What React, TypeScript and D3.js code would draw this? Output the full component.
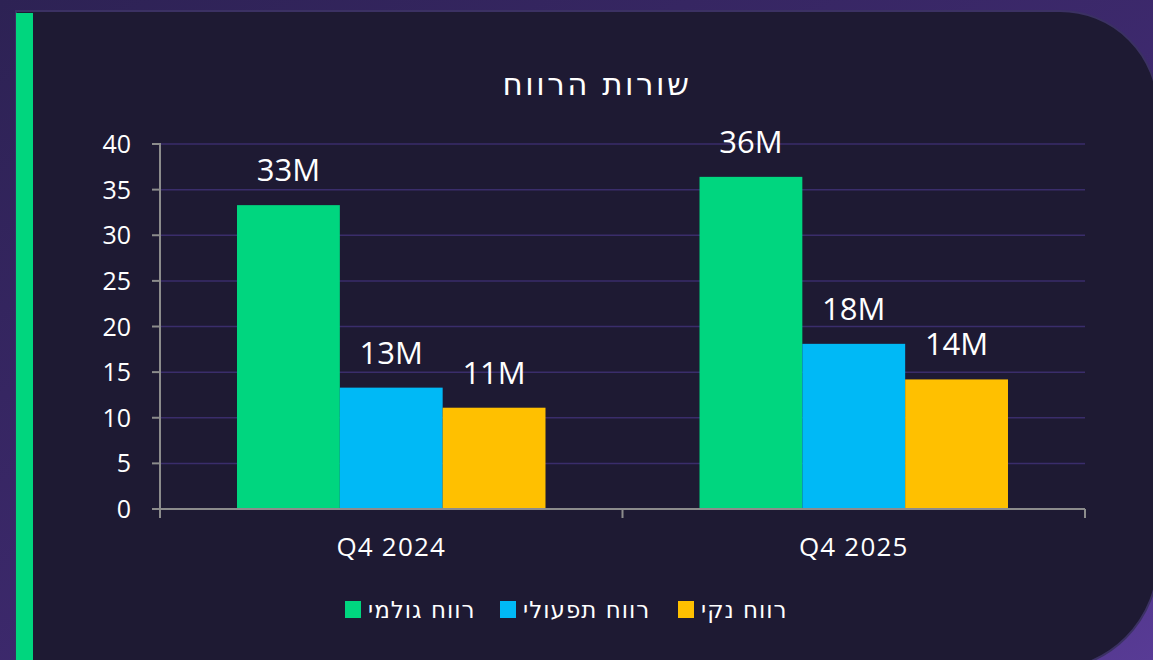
import React from 'react';
import * as d3 from 'd3';

// נתוני הגרף
const categories = ['Q4 2024', 'Q4 2025'];
const seriesNames = ['רווח גולמי', 'רווח תפעולי', 'רווח נקי'];
const seriesColors = ['#00d67f', '#00b9f6', '#ffc000'];
const gross = [33.3, 36.4];
const operating = [13.3, 18.1];
const net = [11.1, 14.2];
const valueLabels = [['33M', '36M'], ['13M', '18M'], ['11M', '14M']];
const yTicks = [0, 5, 10, 15, 20, 25, 30, 35, 40];

const W = 1153, H = 660;
const FONT = "'Open Sans', 'DejaVu Sans', sans-serif";
const HEB = "'DejaVu Sans', sans-serif";

export default function App() {
  const values = [gross, operating, net];

  const x0 = d3.scaleBand<string>()
    .domain(categories)
    .range([160, 1085])
    .paddingInner(0.333)
    .paddingOuter(0.1665);

  const x1 = d3.scaleBand<number>()
    .domain(d3.range(seriesNames.length))
    .range([0, x0.bandwidth()])
    .padding(0);

  const y = d3.scaleLinear().domain([0, 40]).range([509, 144]);

  // כרטיס עם פינות ימניות מעוגלות
  const card = 'M16,11 L1060,11 A98,98 0 0 1 1158,109 L1158,560 A110,110 0 0 1 1048,670 L16,670 Z';

  const legendX = [345, 500, 678];

  return (
    <svg width={W} height={H} style={{ position: 'absolute', left: 0, top: 0 }} fontFamily={FONT}>
      <defs>
        <linearGradient id="bg" x1="0" y1="0" x2="1" y2="1">
          <stop offset="0" stopColor="#2d2254" />
          <stop offset="0.6" stopColor="#3f2a70" />
          <stop offset="1" stopColor="#583b95" />
        </linearGradient>
      </defs>
      <rect x={0} y={0} width={W} height={H} fill="url(#bg)" />
      <path d={card} fill="#1e1a33" stroke="#3b3163" strokeWidth={2} />
      <rect x={16} y={13} width={17} height={H - 13} fill="#00d67e" />

      <text x={597} y={95} textAnchor="middle" fill="#ffffff" fontSize={31} letterSpacing={2.5} fontFamily={HEB} direction="rtl">
        שורות הרווח
      </text>

      {/* קווי רשת */}
      {yTicks.filter(t => t > 0).map(t => (
        <line key={'g' + t} x1={160} x2={1085} y1={y(t)} y2={y(t)} stroke="#3a2d6b" strokeWidth={1.5} />
      ))}

      {/* עמודות */}
      {categories.map((c, ci) => (
        <g key={c} transform={`translate(${x0(c)},0)`}>
          {values.map((s, si) => (
            <g key={si}>
              <rect x={x1(si)} y={y(s[ci])} width={x1.bandwidth()} height={y(0) - y(s[ci])} fill={seriesColors[si]} />
              <text x={(x1(si) as number) + x1.bandwidth() / 2} y={y(s[ci]) - 24} textAnchor="middle" fill="#ffffff" fontSize={31}>
                {valueLabels[si][ci]}
              </text>
            </g>
          ))}
        </g>
      ))}

      {/* ציר Y */}
      <line x1={160} x2={160} y1={y(40) - 1} y2={518} stroke="#8c8c8c" strokeWidth={2} />
      {yTicks.map(t => (
        <g key={'t' + t}>
          <line x1={152} x2={160} y1={y(t)} y2={y(t)} stroke="#8c8c8c" strokeWidth={2} />
          <text x={131} y={y(t) + 9} textAnchor="end" fill="#ffffff" fontSize={25}>{t}</text>
        </g>
      ))}

      {/* ציר X */}
      <line x1={152} x2={1085} y1={509} y2={509} stroke="#8c8c8c" strokeWidth={2} />
      {[160, (x0(categories[1]) as number) - x0.step() * 0.333 / 2, 1085].map((px, i) => (
        <line key={'xt' + i} x1={px} x2={px} y1={509} y2={518} stroke="#8c8c8c" strokeWidth={2} />
      ))}
      {categories.map(c => (
        <text key={'xl' + c} x={(x0(c) as number) + x0.bandwidth() / 2} y={556} textAnchor="middle" fill="#ffffff" fontSize={26} letterSpacing={1.2}>
          {c}
        </text>
      ))}

      {/* מקרא */}
      {seriesNames.map((n, i) => (
        <g key={'lg' + i}>
          <rect x={legendX[i]} y={601} width={16} height={17} fill={seriesColors[i]} />
          <text x={legendX[i] + 23} y={618} textAnchor="start" fill="#ffffff" fontSize={23} letterSpacing={1} fontFamily={HEB}>{n}</text>
        </g>
      ))}
    </svg>
  );
}
